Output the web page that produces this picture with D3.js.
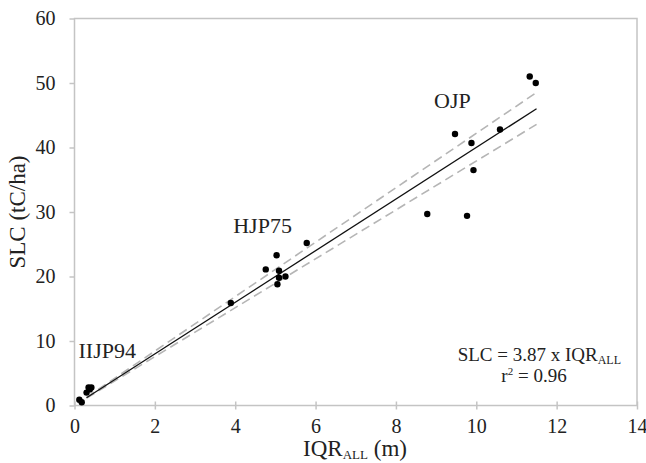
<!DOCTYPE html>
<html><head><meta charset="utf-8">
<script src="https://cdn.jsdelivr.net/npm/d3@7"></script>
<style>body{margin:0;background:#fff}svg{display:block}text{font-family:"Liberation Serif","Times New Roman",serif;fill:#222}</style>
</head><body><svg id="c" width="646" height="463"></svg>
<script>
// Data
const xTicks = [0,2,4,6,8,10,12,14];
const yTicks = [0,10,20,30,40,50,60];
const iiJP94 = [[0.12,0.9],[0.18,0.5],[0.30,2.0],[0.35,2.8],[0.42,2.8],[0.38,2.5]];
const hJP75 = [[3.89,15.9],[4.76,21.1],[5.03,23.3],[5.09,20.9],[5.09,19.8],[5.25,20.0],[5.05,18.8],[5.78,25.2]];
const oJP = [[11.33,51.0],[11.48,50.0],[9.47,42.1],[10.59,42.8],[9.88,40.7],[9.93,36.5],[8.78,29.7],[9.77,29.4]];
const fitRange = [0.3,11.5];
const fitSlope = 4.0, upperSlope = 4.22, lowerSlope = 3.79;
const groupLabels = [{t:"IIJP94",x:0.1,y:7.3},{t:"HJP75",x:3.95,y:26.8},{t:"OJP",x:8.95,y:46.2}];

const svg = d3.select("#c");
const m = {l:74.5, r:637, t:18.5, b:405.5};
const x = d3.scaleLinear().domain([0,14]).range([m.l,m.r]);
const y = d3.scaleLinear().domain([0,60]).range([m.b,m.t]);
const axisCol = "#c4c4c4";
const FF = "'Liberation Serif', 'Times New Roman', serif";

// frame
svg.append("rect").attr("x",m.l).attr("y",m.t).attr("width",m.r-m.l).attr("height",m.b-m.t)
  .attr("fill","none").attr("stroke",axisCol).attr("stroke-width",1.5);

const xa = svg.append("g").attr("transform",`translate(0,${m.b})`)
  .call(d3.axisBottom(x).tickValues(xTicks).tickSize(0).tickPadding(13));
xa.attr("font-family",FF);
xa.select(".domain").remove();
xa.selectAll(".tick").append("line").attr("y1",-4).attr("y2",4).attr("stroke",axisCol).attr("stroke-width",1.5);
xa.selectAll("text").attr("font-size",20).attr("fill","#444");

const ya = svg.append("g").attr("transform",`translate(${m.l},0)`)
  .call(d3.axisLeft(y).tickValues(yTicks).tickSize(0).tickPadding(19));
ya.attr("font-family",FF);
ya.select(".domain").remove();
ya.selectAll(".tick").append("line").attr("x1",-5).attr("x2",0).attr("stroke",axisCol).attr("stroke-width",1.5);
ya.selectAll("text").attr("font-size",20).attr("fill","#444");

// axis titles
const xt = svg.append("text").attr("x",355).attr("y",456).attr("text-anchor","middle").attr("font-size",23);
xt.append("tspan").text("IQR");
xt.append("tspan").text("ALL").attr("font-size",13).attr("dy",3);
xt.append("tspan").text(" (m)").attr("dy",-3);
svg.append("text").attr("transform","translate(25,212) rotate(-90)").attr("text-anchor","middle")
  .attr("font-size",23).text("SLC (tC/ha)");

// bands
const line = s => [[fitRange[0], s*fitRange[0]],[fitRange[1], s*fitRange[1]]];
const lg = d3.line().x(d=>x(d[0])).y(d=>y(d[1]));
[upperSlope,lowerSlope].forEach(s=>{
  svg.append("path").attr("d",lg(line(s))).attr("stroke","#b5b5b5").attr("stroke-width",1.6)
    .attr("stroke-dasharray","9,5").attr("fill","none");
});
svg.append("path").attr("d",lg(line(fitSlope))).attr("stroke","#111").attr("stroke-width",1.3).attr("fill","none");

// points
[...iiJP94,...hJP75,...oJP].forEach(d=>{
  svg.append("circle").attr("cx",x(d[0])).attr("cy",y(d[1])).attr("r",3.2).attr("fill","#000");
});

// group labels
groupLabels.forEach(g=>{
  svg.append("text").attr("x",x(g.x)).attr("y",y(g.y)).attr("font-size",22).text(g.t);
});

// equation
const eq = svg.append("text").attr("x",621).attr("y",361).attr("text-anchor","end").attr("font-size",19);
eq.append("tspan").text("SLC = 3.87 x IQR");
eq.append("tspan").text("ALL").attr("font-size",12).attr("dy",3);
const r2 = svg.append("text").attr("x",534).attr("y",382).attr("text-anchor","middle").attr("font-size",19);
r2.append("tspan").text("r");
r2.append("tspan").text("2").attr("font-size",11).attr("dy",-7);
r2.append("tspan").text(" = 0.96").attr("dy",7);
</script></body></html>
